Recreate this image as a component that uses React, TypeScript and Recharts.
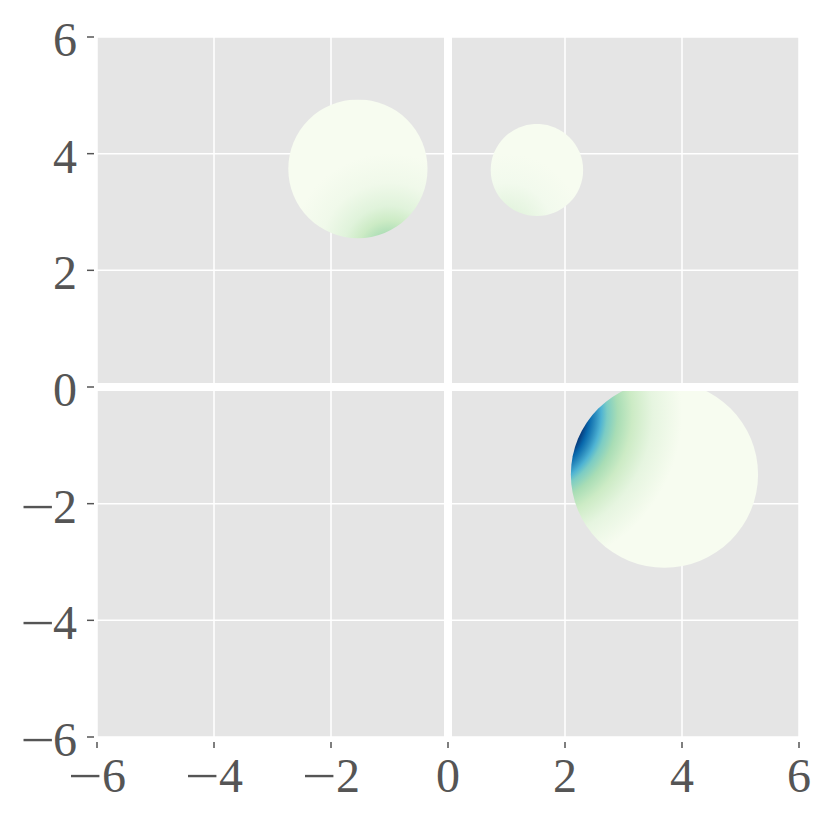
import React from 'react';
import { ScatterChart, Scatter, XAxis, YAxis, CartesianGrid, ReferenceArea, ReferenceLine } from 'recharts';

const xTicks = [-6, -4, -2, 0, 2, 4, 6];
const yTicks = [-6, -4, -2, 0, 2, 4, 6];

// circles (data units)
const circleX = [-1.54, 1.52, 3.7];
const circleY = [3.74, 3.72, -1.5];
const circleR = [1.19, 0.79, 1.6];
const clipTopY = [6, 6, 0];
// gradient hot spots
const hotX = [-1.0, 1.0, 1.3];
const hotY = [2.3, 2.7, -0.45];
const stopDist = [
  [0.35, 0.55, 0.8, 1.2, 1.7],
  [0.35, 0.8, 1.3],
  [1.04, 1.12, 1.22, 1.32, 1.42, 1.6, 1.85, 2.2, 2.7],
];
const stopColor = [
  ['#b0dfb7', '#ccebc5', '#e0f3db', '#f0f9ea', '#f7fcf0'],
  ['#e4f4df', '#f2faed', '#f7fcf0'],
  ['#084081', '#0868ac', '#2b8cbe', '#4eb3d3', '#7bccc4', '#a8ddb5', '#ccebc5', '#e6f5e0', '#f7fcf0'],
];

const centers = circleX.map((x, i) => ({ x, y: circleY[i] }));

const labelColor = '#555555';
const tickColor = '#555555';
const FONT = '"Liberation Serif", "DejaVu Serif", serif';
const FS = 48;
const MINUS = '\u2212';

const Minus = ({ cx, by }: { cx: number; by: number }) => (
  <text
    x={0}
    y={0}
    textAnchor="middle"
    transform={`translate(${cx},${by}) scale(1.27,1)`}
    fontFamily={FONT}
    fontSize={FS}
    fill={labelColor}
  >
    {MINUS}
  </text>
);

const YTick = (props: any) => {
  const { x, y, payload } = props;
  const v = payload.value as number;
  const by = y + 19;
  return (
    <g>
      <line x1={x - 10} x2={x - 3} y1={y} y2={y} stroke={tickColor} strokeWidth={1.5} />
      <text x={x - 20} y={by} textAnchor="end" fontFamily={FONT} fontSize={FS} fill={labelColor}>
        {String(Math.abs(v))}
      </text>
      {v < 0 && <Minus cx={x - 59.5} by={by} />}
    </g>
  );
};

const XTick = (props: any) => {
  const { x, y, payload } = props;
  const v = payload.value as number;
  const by = y + 55;
  return (
    <g>
      <line x1={x} x2={x} y1={y + 5} y2={y + 11} stroke={tickColor} strokeWidth={1.5} />
      <text x={v < 0 ? x + 17 : x} y={by} textAnchor="middle" fontFamily={FONT} fontSize={FS} fill={labelColor}>
        {String(Math.abs(v))}
      </text>
      {v < 0 && <Minus cx={x - 12} by={by} />}
    </g>
  );
};

const makeShape = (i: number) => (props: any) => {
  const { x, y, width, height } = props;
  if (width == null || height == null) return <g />;
  const r = circleR[i];
  const ppuX = width / (2 * r);
  const ppuY = height / (2 * r);
  const gx = x + (hotX[i] - (circleX[i] - r)) * ppuX;
  const gy = y + (circleY[i] + r - hotY[i]) * ppuY;
  const ds = stopDist[i];
  const maxD = ds[ds.length - 1];
  const clipY = Math.max(y, y + (circleY[i] + r - clipTopY[i]) * ppuY);
  const gid = `grad-${i}`;
  const cid = `clip-${i}`;
  return (
    <g>
      <defs>
        <radialGradient id={gid} gradientUnits="userSpaceOnUse" cx={gx} cy={gy} r={maxD * ppuX}>
          {ds.map((d, k) => (
            <stop key={k} offset={d / maxD} stopColor={stopColor[i][k]} />
          ))}
        </radialGradient>
        <clipPath id={cid}>
          <rect x={x - 2} y={clipY} width={width + 4} height={y + height - clipY + 2} />
        </clipPath>
      </defs>
      <ellipse
        cx={x + width / 2}
        cy={y + height / 2}
        rx={width / 2}
        ry={height / 2}
        fill={`url(#${gid})`}
        clipPath={`url(#${cid})`}
      />
    </g>
  );
};

export default function App() {
  return (
    <div style={{ position: 'absolute', left: 0, top: 0, background: '#fff' }}>
      <ScatterChart width={830} height={819} margin={{ top: 37, right: 31, bottom: 0, left: 0 }}>
        <CartesianGrid fill="#e5e5e5" stroke="#ffffff" strokeWidth={1.5} />
        <XAxis
          type="number"
          dataKey="x"
          domain={[-6, 6]}
          ticks={xTicks}
          allowDataOverflow
          height={82}
          axisLine={false}
          tickLine={false}
          tickSize={0}
          tickMargin={0}
          tick={<XTick />}
          interval={0}
        />
        <YAxis
          type="number"
          dataKey="y"
          domain={[-6, 6]}
          ticks={yTicks}
          allowDataOverflow
          width={97}
          axisLine={false}
          tickLine={false}
          tickSize={0}
          tickMargin={0}
          tick={<YTick />}
          interval={0}
        />
        {circleX.map((cx, i) => (
          <ReferenceArea
            key={i}
            x1={cx - circleR[i]}
            x2={cx + circleR[i]}
            y1={circleY[i] - circleR[i]}
            y2={circleY[i] + circleR[i]}
            ifOverflow="visible"
            shape={makeShape(i)}
          />
        ))}
        <ReferenceLine x={0} stroke="#ffffff" strokeWidth={8} />
        <ReferenceLine y={0} stroke="#ffffff" strokeWidth={8} />
        <Scatter data={centers} isAnimationActive={false} shape={() => <g />} />
      </ScatterChart>
    </div>
  );
}
